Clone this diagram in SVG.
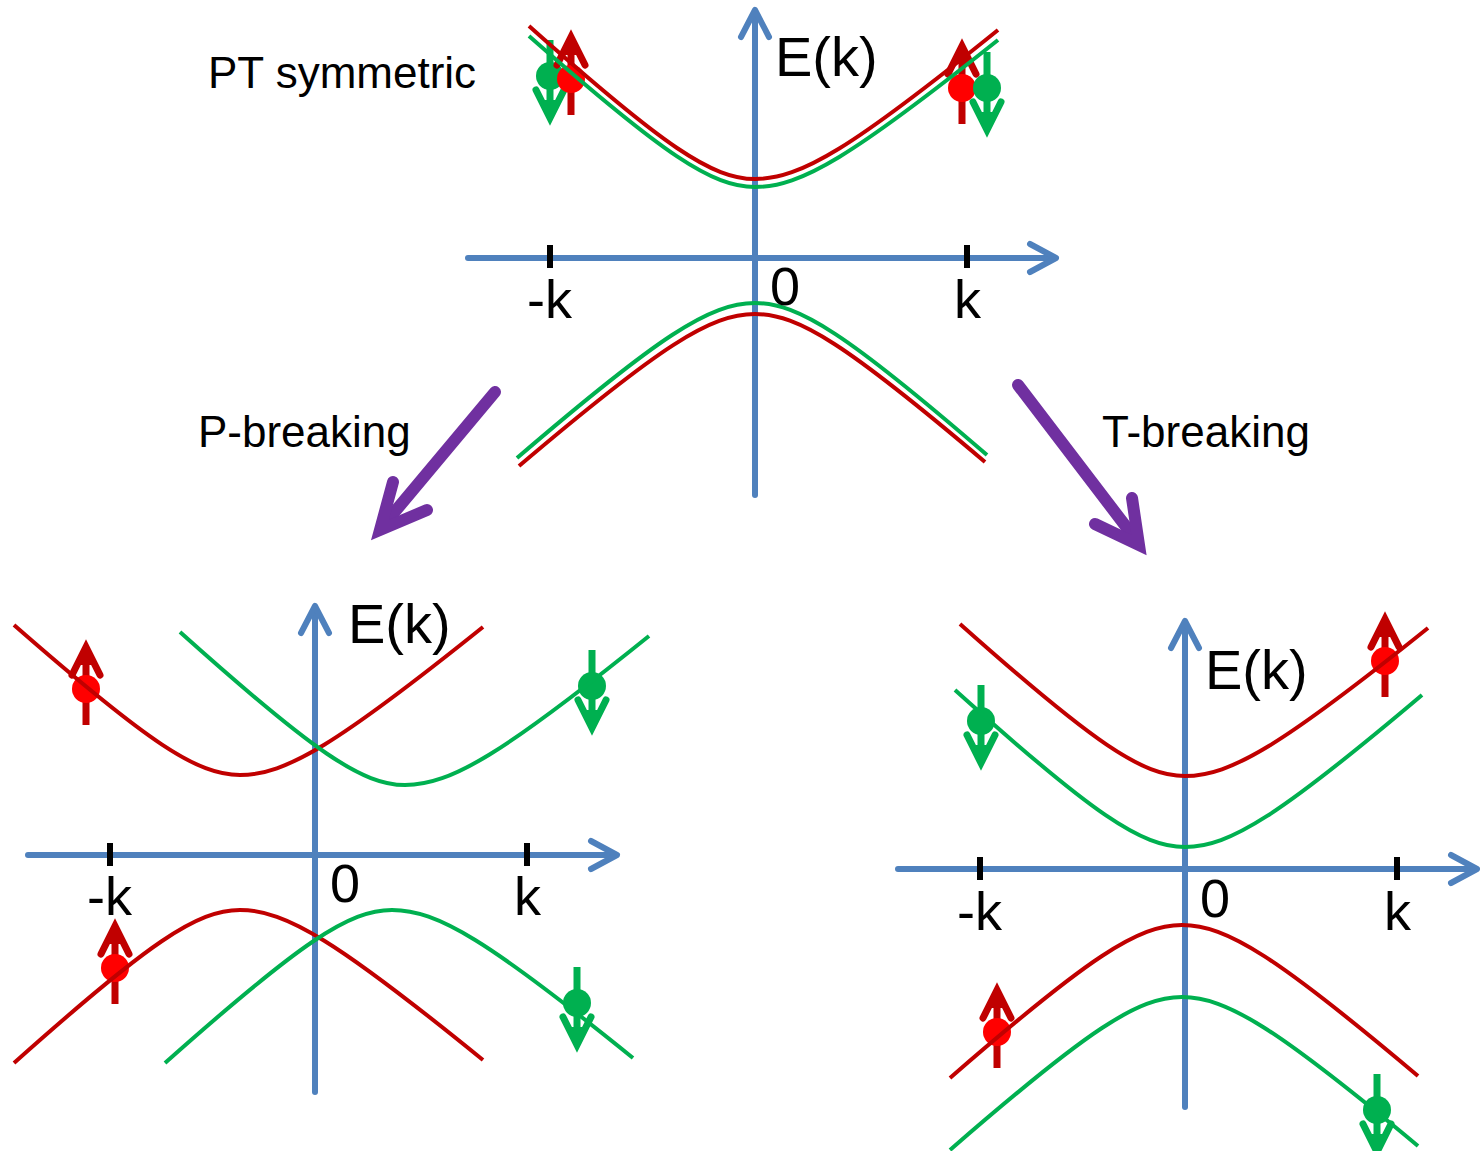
<svg xmlns="http://www.w3.org/2000/svg" xmlns:xlink="http://www.w3.org/1999/xlink" width="1480" height="1151" viewBox="0 0 1480 1151">
<style>
  .axis{fill:none;stroke:#4F81BD;stroke-width:6;stroke-linecap:round;stroke-linejoin:round}
  .tick{stroke:#000;stroke-width:6}
  .red{fill:none;stroke:#C00000;stroke-width:4}
  .green{fill:none;stroke:#00B050;stroke-width:4}
  .lbl{font-family:"Liberation Sans",Arial,sans-serif;fill:#000}
  .ax{font-size:54px}
  .ek{font-size:56px}
  .title{font-size:44px}
  .purple{fill:none;stroke:#7030A0;stroke-width:12;stroke-linecap:round;stroke-linejoin:miter}
</style>
<defs>
  <g id="spinUp">
    <line x1="0" y1="36" x2="0" y2="-40" stroke="#C00000" stroke-width="7"/>
    <polygon points="0,-46 -9,-24 9,-24" fill="#C00000"/>
    <polyline points="-14,-14 0,-42 14,-14" fill="none" stroke="#C00000" stroke-width="7" stroke-linecap="round" stroke-linejoin="miter"/>
    <circle cx="0" cy="0" r="14" fill="#FF0000"/>
  </g>
  <g id="spinDown">
    <line x1="0" y1="-36" x2="0" y2="40" stroke="#00B050" stroke-width="7"/>
    <polygon points="0,46 -9,24 9,24" fill="#00B050"/>
    <polyline points="-14,14 0,42 14,14" fill="none" stroke="#00B050" stroke-width="7" stroke-linecap="round" stroke-linejoin="miter"/>
    <circle cx="0" cy="0" r="14" fill="#00B050"/>
  </g>
</defs>

<!-- Top panel -->
<g id="panel-top">
  <g id="top-axes">
    <line class="axis" x1="755" y1="495" x2="755" y2="12"/>
    <polyline class="axis" points="741,37 755,10 769,37"/>
    <line class="axis" x1="468" y1="258" x2="1054" y2="258"/>
    <polyline class="axis" points="1030,244 1056,258 1030,272"/>
    <line class="tick" x1="550" y1="245" x2="550" y2="268"/>
    <line class="tick" x1="967" y1="245" x2="967" y2="268"/>
  </g>
  <g id="top-spins">
    <use xlink:href="#spinDown" x="550" y="76"/>
    <use xlink:href="#spinUp" x="571" y="79"/>
    <use xlink:href="#spinUp" x="962" y="88"/>
    <use xlink:href="#spinDown" x="987" y="88"/>
  </g>
  <g id="top-bands">
    <path class="red" d="M529,26 C664.1,146.6 712.3,179 755,179 C800.9,179 852.7,147.4 998,30"/>
    <path class="green" d="M529,36 C664.1,155 712.3,187 755,187 C800.9,187 852.7,155.8 998,40"/>
    <path class="red" d="M519,466 C660.1,346.2 710.4,314 755,314 C798.5,314 847.5,345.4 985,462"/>
    <path class="green" d="M517,458 C659.3,335.9 710,303 755,303 C798.8,303 848.3,335.2 987,455"/>
  </g>
  <text class="lbl ek" x="775" y="76">E(k)</text>
  <text class="lbl ax" x="527" y="318">-k</text>
  <text class="lbl ax" x="770" y="305">0</text>
  <text class="lbl ax" x="954" y="318">k</text>
  <text class="lbl title" x="208" y="88">PT symmetric</text>
</g>

<!-- Transition arrows -->
<g id="connectors">
  <g id="arrow-P">
    <line class="purple" x1="495" y1="392" x2="382" y2="527"/>
    <polyline class="purple" points="393,482 380,530 427,510"/>
  </g>
  <g id="arrow-T">
    <line class="purple" x1="1018" y1="385" x2="1137" y2="541"/>
    <polyline class="purple" points="1132,498 1139,545 1095,524"/>
  </g>
</g>
<text class="lbl title" x="198" y="447">P-breaking</text>
<text class="lbl title" x="1102" y="447">T-breaking</text>

<!-- Bottom-left panel -->
<g id="panel-P">
  <g id="p-axes">
    <line class="axis" x1="315" y1="1092" x2="315" y2="608"/>
    <polyline class="axis" points="301,633 315,606 329,633"/>
    <line class="axis" x1="28" y1="855" x2="615" y2="855"/>
    <polyline class="axis" points="591,841 617,855 591,869"/>
    <line class="tick" x1="110" y1="843" x2="110" y2="866"/>
    <line class="tick" x1="527" y1="843" x2="527" y2="866"/>
  </g>
  <g id="p-spins">
    <use xlink:href="#spinUp" x="86" y="689"/>
    <use xlink:href="#spinUp" x="115" y="968"/>
    <use xlink:href="#spinDown" x="592" y="686"/>
    <use xlink:href="#spinDown" x="577" y="1003"/>
  </g>
  <g id="p-bands">
    <path class="red" d="M14,625 C149.1,743.2 197.3,775 240,775 C285.9,775 337.7,743.6 483,627"/>
    <path class="green" d="M180,632 C314.5,752.6 362.5,785 405,785 C451.1,785 503.1,753.4 649,636"/>
    <path class="red" d="M14,1063 C149.1,942.4 197.3,910 240,910 C285.9,910 337.7,941.8 483,1060"/>
    <path class="green" d="M165,1063 C300.7,942.4 349.1,910 392,910 C437.5,910 488.9,941.4 633,1058"/>
  </g>
  <text class="lbl ek" x="348" y="643">E(k)</text>
  <text class="lbl ax" x="87" y="915">-k</text>
  <text class="lbl ax" x="330" y="902">0</text>
  <text class="lbl ax" x="514" y="915">k</text>
</g>

<!-- Bottom-right panel -->
<g id="panel-T">
  <g id="t-axes">
    <line class="axis" x1="1185" y1="1107" x2="1185" y2="623"/>
    <polyline class="axis" points="1171,648 1185,621 1199,648"/>
    <line class="axis" x1="898" y1="869" x2="1475" y2="869"/>
    <polyline class="axis" points="1451,855 1477,869 1451,883"/>
    <line class="tick" x1="980" y1="857" x2="980" y2="880"/>
    <line class="tick" x1="1397" y1="857" x2="1397" y2="880"/>
  </g>
  <g id="t-spins">
    <use xlink:href="#spinUp" x="1385" y="661"/>
    <use xlink:href="#spinDown" x="981" y="721"/>
    <use xlink:href="#spinUp" x="997" y="1032"/>
    <use xlink:href="#spinDown" x="1377" y="1110"/>
  </g>
  <g id="t-bands">
    <path class="red" d="M960,624 C1094.5,743.8 1142.5,776 1185,776 C1230.9,776 1282.7,744.6 1428,628"/>
    <path class="green" d="M955,690 C1092.5,813.7 1141.5,847 1185,847 C1229.8,847 1280.3,814.8 1422,695"/>
    <path class="red" d="M950,1078 C1088.7,957.4 1138.2,925 1182,925 C1226.6,925 1276.9,957 1418,1076"/>
    <path class="green" d="M950,1150 C1088.7,1029.4 1138.2,997 1182,997 C1226.6,997 1276.9,1028.6 1418,1146"/>
  </g>
  <text class="lbl ek" x="1205" y="689">E(k)</text>
  <text class="lbl ax" x="957" y="930">-k</text>
  <text class="lbl ax" x="1200" y="917">0</text>
  <text class="lbl ax" x="1384" y="930">k</text>
</g>
</svg>
